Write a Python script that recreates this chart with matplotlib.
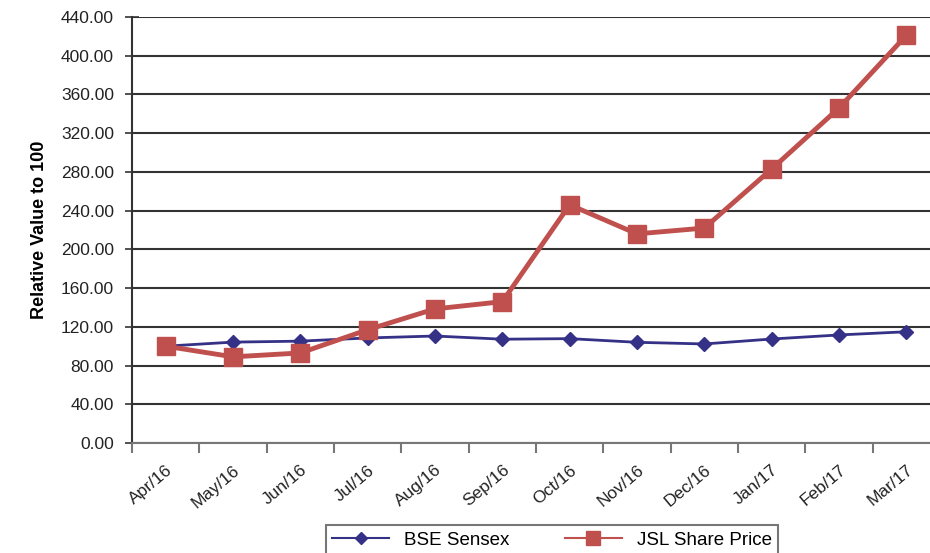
import numpy as np
import matplotlib.pyplot as plt

plt.rcParams['font.family'] = ['Liberation Sans', 'DejaVu Sans']

months = ['Apr/16', 'May/16', 'Jun/16', 'Jul/16', 'Aug/16', 'Sep/16',
          'Oct/16', 'Nov/16', 'Dec/16', 'Jan/17', 'Feb/17', 'Mar/17']
sensex = [100, 104.2, 105.2, 108.5, 110.5, 107.2, 107.8, 104.0, 102.3, 107.4, 111.6, 114.9]
jsl = [100, 89, 93, 117, 138.5, 146, 246, 216, 222, 283, 346, 421]

fig = plt.figure(figsize=(9.3, 5.53), dpi=100)
ax = fig.add_axes([132/930, 110/553, 808/930, 426/553])

x = np.arange(len(months))
ax.plot(x, sensex, color='#353187', lw=2, marker='D', ms=7, label='BSE Sensex', zorder=3)
ax.plot(x, jsl, color='#C0504D', lw=3.5, marker='s', ms=13, label='JSL Share Price', zorder=4)

ax.set_xlim(-0.5, 11.5)
ax.set_ylim(0, 440)
ax.set_yticks(np.arange(0, 441, 40))
ax.set_yticklabels(['%.2f' % v for v in np.arange(0, 441, 40)], fontsize=12.5, color='#222222')
ax.yaxis.grid(True, color='#333333', lw=1.5)
ax.set_axisbelow(True)

ax.set_xticks(x)
ax.set_xticklabels(months, rotation=40, ha='right', rotation_mode='anchor', fontsize=12.5, color='#222222')
ax.set_xticks(np.arange(-0.5, 12, 1), minor=True)
ax.tick_params(axis='x', which='major', length=0, pad=14)
ax.tick_params(axis='x', which='minor', length=7, color='#777777', width=1.5)
ax.tick_params(axis='y', direction='inout', length=10, color='#333333', width=1.2, pad=8)

for s in ['top', 'right']:
    ax.spines[s].set_visible(False)
ax.spines['left'].set_color('#333333')
ax.spines['left'].set_linewidth(1.5)
ax.spines['bottom'].set_color('#777777')
ax.spines['bottom'].set_linewidth(1.5)

ax.set_ylabel('Relative Value to 100', fontsize=13, fontweight='bold', labelpad=9)

leg = fig.legend(loc='upper center', bbox_to_anchor=(552/930, 1 - 525/553), ncol=2,
                 fontsize=13.5, frameon=True, fancybox=False, edgecolor='#555555',
                 columnspacing=3, handlelength=3.0, borderpad=0.35, borderaxespad=0)
leg.get_frame().set_linewidth(1.5)
for ln, ms in zip(leg.get_lines(), [6, 10]):
    ln.set_linewidth(1.5)
    ln.set_markersize(ms)

fig.savefig('out.png', dpi=100)
